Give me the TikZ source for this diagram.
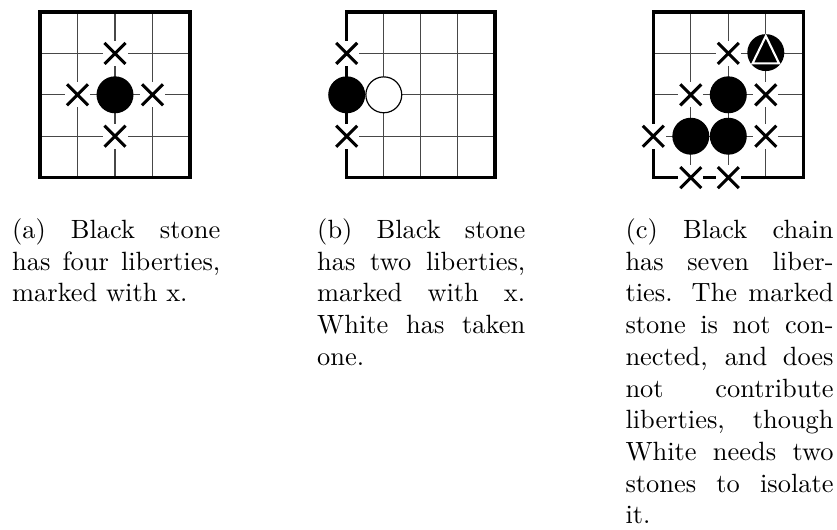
\documentclass[tikz,border=0pt]{standalone}
\usepackage{fontspec}
\newcommand\golib[2]{%
  \fill[white] (#1-12.5,#2-12.5) rectangle (#1+12.5,#2+12.5);
  \draw[libx] (#1-10.5,#2-10.5) -- (#1+10.5,#2+10.5) (#1-10.5,#2+10.5) -- (#1+10.5,#2-10.5);}
\newcommand\gobs[2]{\fill[black] (#1,#2) circle[radius=7pt];}
\newcommand\gows[2]{\filldraw[fill=white,draw=black,line width=0.45pt] (#1,#2) circle[radius=6.8pt];}
\begin{document}
\begin{tikzpicture}[x=0.3788pt,y=-0.3788pt,
  gridline/.style={draw=black!72,line width=0.42pt},
  border/.style={draw=black,line width=1.15pt,line join=miter},
  libx/.style={draw=black,line width=1.15pt,line cap=butt},
  captext/.style={anchor=base west,inner sep=0pt}]
\useasboundingbox (0,0) rectangle (837,529);

% ---------- board (a)
\foreach \i in {1,2,3} {
  \draw[gridline] (40+37.5*\i,12) -- (40+37.5*\i,177.6);
  \draw[gridline] (40,12+41.4*\i) -- (190,12+41.4*\i);
}
\draw[border] (40,12) rectangle (190,177.6);
\golib{115}{53.4}
\golib{77.5}{94.8}
\golib{152.5}{94.8}
\golib{115}{136.2}
\gobs{115}{94.8}

% ---------- board (b)
\foreach \i in {1,2,3} {
  \draw[gridline] (346.7+37.075*\i,12) -- (346.7+37.075*\i,177.6);
  \draw[gridline] (346.7,12+41.4*\i) -- (495,12+41.4*\i);
}
\draw[border] (346.7,12) rectangle (495,177.6);
\golib{346.7}{53.4}
\golib{346.7}{136.2}
\gobs{346.7}{94.8}
\gows{383.8}{94.8}

% ---------- board (c)
\foreach \i in {1,2,3} {
  \draw[gridline] (653.3+37.5*\i,12) -- (653.3+37.5*\i,177.6);
  \draw[gridline] (653.3,12+41.4*\i) -- (803.3,12+41.4*\i);
}
\draw[border] (653.3,12) rectangle (803.3,177.6);
\golib{728.3}{53.4}
\golib{690.8}{94.8}
\golib{765.8}{94.8}
\golib{653.3}{136.2}
\golib{765.8}{136.2}
\golib{690.8}{177.6}
\golib{728.3}{177.6}
\gobs{728.3}{94.8}
\gobs{690.8}{136.2}
\gobs{728.3}{136.2}
\gobs{765.8}{52.6}
\draw[white,line width=0.8pt,line join=miter] (765.8,36) -- (752.6,63.3) -- (779,63.3) -- cycle;

% ---------- captions
\node[captext] (a1) at (11.7,238.5) {\makebox[78.8pt][s]{(a) Black stone}};
\node[captext] (a2) at (11.7,270.2) {\makebox[78.8pt][s]{has four liberties,}};
\node[captext] (a3) at (11.7,301.9) {marked with x.};

\node[captext] (b1) at (316.7,238.5) {\makebox[78.8pt][s]{(b) Black stone}};
\node[captext] (b2) at (316.7,270.2) {\makebox[78.8pt][s]{has two liberties,}};
\node[captext] (b3) at (316.7,301.9) {\makebox[78.8pt][s]{marked with x.}};
\node[captext] (b4) at (316.7,333.6) {\makebox[78.8pt][s]{White has taken}};
\node[captext] (b5) at (316.7,365.3) {one.};

\node[captext] (c1) at (625,238.5) {\makebox[78.8pt][s]{(c) Black chain}};
\node[captext] (c2) at (625,270.2) {\makebox[78.8pt][s]{has seven liber-}};
\node[captext] (c3) at (625,301.9) {\makebox[78.8pt][s]{ties. The marked}};
\node[captext] (c4) at (625,333.6) {\makebox[78.8pt][s]{stone is not con-}};
\node[captext] (c5) at (625,365.3) {\makebox[78.8pt][s]{nected, and does}};
\node[captext] (c6) at (625,397.0) {\makebox[78.8pt][s]{not contribute}};
\node[captext] (c7) at (625,428.7) {\makebox[78.8pt][s]{liberties, though}};
\node[captext] (c8) at (625,460.4) {\makebox[78.8pt][s]{White needs two}};
\node[captext] (c9) at (625,492.1) {\makebox[78.8pt][s]{stones to isolate}};
\node[captext] (c10) at (625,523.8) {it.};
\end{tikzpicture}
\end{document}
